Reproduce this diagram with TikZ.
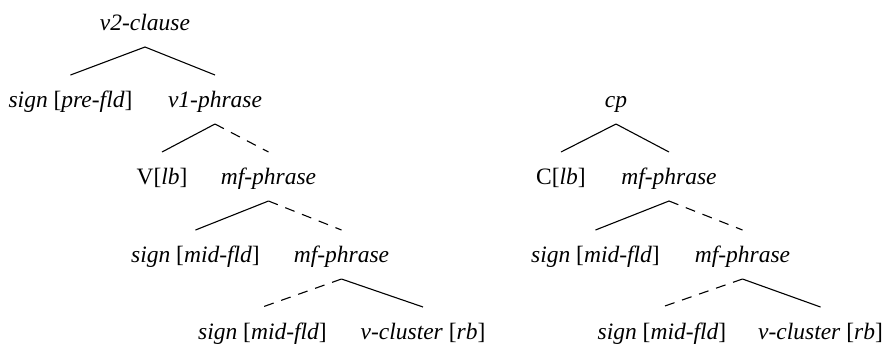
\documentclass[tikz,border=0pt]{standalone}
\usepackage{fontspec}
\setmainfont{LiberationSerif}[Extension=.ttf,UprightFont=*-Regular,ItalicFont=*-Italic,BoldFont=*-Bold,BoldItalicFont=*-BoldItalic]
\begin{document}
\begin{tikzpicture}[x=0.5pt,y=-0.5pt,
  lbl/.style={anchor=base,inner sep=0pt,font=\fontsize{11.75}{14}\selectfont},
  edge/.style={line width=0.55pt},
  dedge/.style={edge,dash pattern=on 5pt off 4pt}]
\useasboundingbox (0,0) rectangle (885,344);
% left tree
\node[lbl] (a) at (145,30) {\textit{v2-clause}};
\node[lbl] (b) at (70.5,107) {\textit{sign} [\textit{pre-fld}]};
\node[lbl] (c) at (215,107) {\textit{v1-phrase}};
\node[lbl] (d) at (162,184) {V[\textit{lb}]};
\node[lbl] (e) at (268.5,184) {\textit{mf-phrase}};
\node[lbl] (f) at (195.5,262) {\textit{sign} [\textit{mid-fld}]};
\node[lbl] (g) at (341.5,262) {\textit{mf-phrase}};
\node[lbl] (h) at (262.5,339) {\textit{sign} [\textit{mid-fld}]};
\node[lbl] (i) at (423,339) {\textit{v-cluster} [\textit{rb}]};
% right tree
\node[lbl] (j) at (616,107) {\textit{cp}};
\node[lbl] (k) at (561,184) {C[\textit{lb}]};
\node[lbl] (l) at (669,184) {\textit{mf-phrase}};
\node[lbl] (m) at (595.5,262) {\textit{sign} [\textit{mid-fld}]};
\node[lbl] (n) at (742.5,262) {\textit{mf-phrase}};
\node[lbl] (o) at (662,339) {\textit{sign} [\textit{mid-fld}]};
\node[lbl] (p) at (820.5,339) {\textit{v-cluster} [\textit{rb}]};
% edges left
\draw[edge] ([yshift=-8.5pt]a.base) -- ([yshift=16pt]b.base);
\draw[edge] ([yshift=-8.5pt]a.base) -- ([yshift=16pt]c.base);
\draw[edge] ([yshift=-8.5pt]c.base) -- ([yshift=16pt]d.base);
\draw[dedge] ([yshift=-8.5pt]c.base) -- ([yshift=16pt]e.base);
\draw[edge] ([yshift=-8.5pt]e.base) -- ([yshift=16pt]f.base);
\draw[dedge] ([yshift=-8.5pt]e.base) -- ([yshift=16pt]g.base);
\draw[dedge] ([yshift=-8.5pt]g.base) -- ([yshift=16pt]h.base);
\draw[edge] ([yshift=-8.5pt]g.base) -- ([yshift=16pt]i.base);
% edges right
\draw[edge] ([yshift=-8.5pt]j.base) -- ([yshift=16pt]k.base);
\draw[edge] ([yshift=-8.5pt]j.base) -- ([yshift=16pt]l.base);
\draw[edge] ([yshift=-8.5pt]l.base) -- ([yshift=16pt]m.base);
\draw[dedge] ([yshift=-8.5pt]l.base) -- ([yshift=16pt]n.base);
\draw[dedge] ([yshift=-8.5pt]n.base) -- ([yshift=16pt]o.base);
\draw[edge] ([yshift=-8.5pt]n.base) -- ([yshift=16pt]p.base);
\end{tikzpicture}
\end{document}
